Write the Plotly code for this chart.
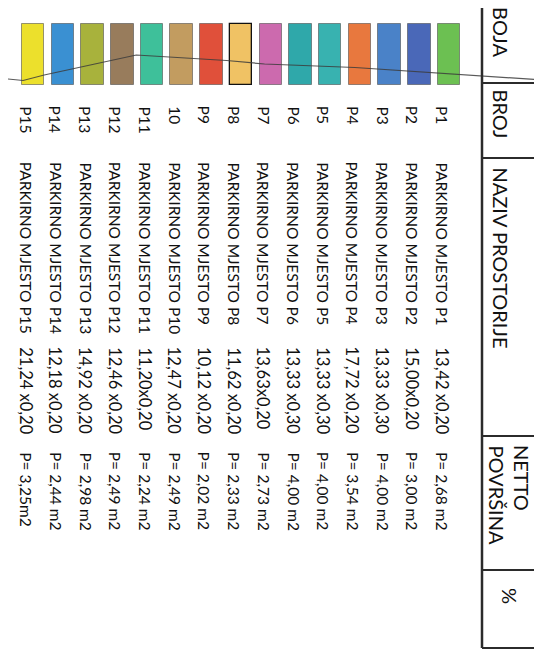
import plotly.graph_objects as go

# ---------------- data ----------------
broj = ["P1", "P2", "P3", "P4", "P5", "P6", "P7", "P8", "P9", "10",
        "P11", "P12", "P13", "P14", "P15"]
naziv = ["PARKIRNO MJESTO P1", "PARKIRNO MJESTO P2", "PARKIRNO MJESTO P3",
         "PARKIRNO MJESTO P4", "PARKIRNO MJESTO P5", "PARKIRNO MJESTO P6",
         "PARKIRNO MJESTO P7", "PARKIRNO MJESTO P8", "PARKIRNO MJESTO P9",
         "PARKIRNO MJESTO P10", "PARKIRNO MJESTO P11", "PARKIRNO MJESTO P12",
         "PARKIRNO MJESTO P13", "PARKIRNO MJESTO P14", "PARKIRNO MJESTO P15"]
dimenzije = ["13,42 x0,20", "15,00x0,20", "13,33 x0,30", "17,72 x0,20",
             "13,33 x0,30", "13,33 x0,30", "13,63x0,20", "11,62 x0,20",
             "10,12 x0,20", "12,47 x0,20", "11,20x0,20", "12,46 x0,20",
             "14,92 x0,20", "12,18 x0,20", "21,24 x0,20"]
povrsina = ["P= 2,68 m2", "P= 3,00 m2", "P= 4,00 m2", "P= 3,54 m2",
            "P= 4,00 m2", "P= 4,00 m2", "P= 2,73 m2", "P= 2,33 m2",
            "P= 2,02 m2", "P= 2,49 m2", "P= 2,24 m2", "P= 2,49 m2",
            "P= 2,98 m2", "P= 2,44 m2", "P= 3,25m2"]
boje = ["#6cc052", "#4a68b8", "#4a82c8", "#e8783e", "#38b2b0", "#2fa8aa",
        "#cc6aae", "#f0c264", "#e0503a", "#c29c60", "#3ec09a", "#987c5c",
        "#a8b23c", "#3a90d2", "#ece02c"]
header_labels = ["BOJA", "BROJ", "NAZIV PROSTORIJE", "NETTO", "POVRŠINA", "%"]

# scanned pencil line crossing the colour strip (row-index units, table units)
line_x = [14.85, 14.34, 13.63, 11.34, 10.53, 7.49, 6.21, 3.17, -0.34, -3.44]
line_y = [71, 72.5, 67, 52, 47, 52.5, 56, 59.5, 66, 72.5]

# ---------------- layout geometry (table units) ----------------
W, H = 542, 651
ROW0_PX, PITCH_PX = 441.0, 29.7


def px2x(px):
    return (ROW0_PX - px) / PITCH_PX


SW_TOP, SW_BOTTOM = 16, 77          # colour swatch extent
COL_START = {"broj": 106, "naziv": 162, "dim": 347, "pov": 452}
COL_SIZE = {"broj": 15.5, "naziv": 15.5, "dim": 16.5, "pov": 15.5}
HDR_LEFT, HDR_RIGHT = px2x(474), px2x(537)
HDR_DIV = [75, 150, 428, 562]
TABLE_BOTTOM = 640
HDR_POS = [(503, 7), (503, 89), (503, 167), (524, 445), (499, 445), (512, 588)]

FONT = "Lato, 'Open Sans', sans-serif"
TXT = "#111111"

rows = list(range(len(broj)))
fig = go.Figure()

fig.add_trace(go.Bar(
    x=rows, y=[SW_BOTTOM - SW_TOP] * len(rows), base=[SW_TOP] * len(rows),
    width=0.76,
    marker=dict(color=boje,
                line=dict(color=["#111111" if b == "P8" else "rgba(70,70,70,0.55)" for b in broj],
                          width=[1.3 if b == "P8" else 1 for b in broj])),
    hoverinfo="skip", showlegend=False))

fig.add_trace(go.Scatter(x=line_x, y=line_y, mode="lines",
                         line=dict(color="rgba(60,60,60,0.85)", width=1.2),
                         hoverinfo="skip", showlegend=False))

annotations = []
for col, values in (("broj", broj), ("naziv", naziv), ("dim", dimenzije), ("pov", povrsina)):
    for i, t in enumerate(values):
        annotations.append(dict(x=i, y=COL_START[col], text=t, showarrow=False,
                                textangle=90, xanchor="center", yanchor="top",
                                xshift=-7, yshift=10,
                                font=dict(family=FONT, size=COL_SIZE[col], color=TXT)))
for lab, (px, py) in zip(header_labels, HDR_POS):
    annotations.append(dict(x=px2x(px), y=py, text=lab, showarrow=False,
                            textangle=90, xanchor="center", yanchor="top", align="left",
                            xshift=-10, yshift=10,
                            font=dict(family=FONT, size=20, color=TXT)))

shapes = []
LC = "#2b2b2b"
for xx in (HDR_LEFT, HDR_RIGHT):
    shapes.append(dict(type="line", x0=xx, x1=xx, y0=-5, y1=TABLE_BOTTOM,
                       line=dict(color=LC, width=2.5)))
for yy in HDR_DIV + [TABLE_BOTTOM]:
    shapes.append(dict(type="line", x0=HDR_LEFT, x1=HDR_RIGHT, y0=yy, y1=yy,
                       line=dict(color=LC, width=2.2)))

fig.update_layout(
    width=W, height=H, margin=dict(l=0, r=0, t=0, b=0),
    paper_bgcolor="white", plot_bgcolor="white",
    xaxis=dict(range=[px2x(0), px2x(W)], visible=False, fixedrange=True),
    yaxis=dict(range=[H, 0], visible=False, fixedrange=True),
    annotations=annotations, shapes=shapes, bargap=0,
)
fig.write_html("out.html", config={"displayModeBar": False})
